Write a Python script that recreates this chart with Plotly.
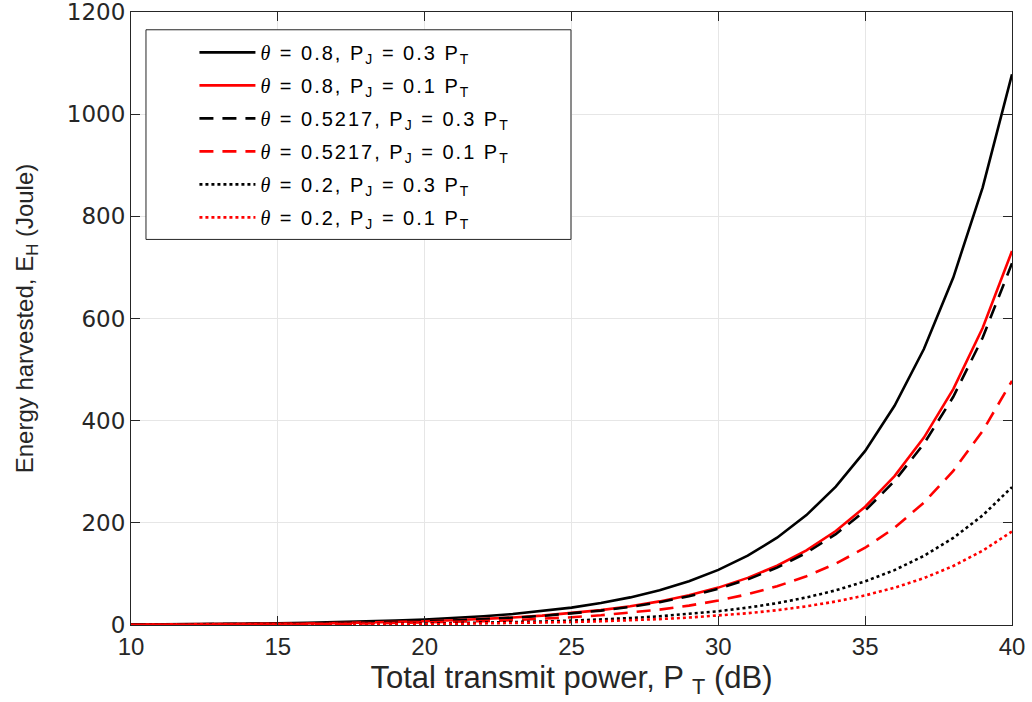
import plotly.graph_objects as go

x_db = list(range(10, 41))

E_th08_pj03 = [1.08, 1.36, 1.71, 2.15, 2.71, 3.41, 4.29, 5.40, 6.80, 8.56,
               10.78, 13.57, 17.09, 21.51, 27.08, 34.09, 42.92, 54.03, 68.02, 85.63,
               107.8, 135.7, 170.9, 215.1, 270.8, 340.9, 429.2, 540.3, 680.2, 856.3, 1078]
E_th08_pj01 = [0.73, 0.92, 1.16, 1.46, 1.84, 2.31, 2.91, 3.67, 4.62, 5.81,
               7.32, 9.22, 11.60, 14.61, 18.39, 23.15, 29.14, 36.69, 46.19, 58.14,
               73.2, 92.2, 116.0, 146.1, 183.9, 231.5, 291.4, 366.9, 461.9, 581.4, 732]
E_th05_pj03 = [0.71, 0.89, 1.12, 1.41, 1.78, 2.24, 2.82, 3.55, 4.47, 5.62,
               7.08, 8.91, 11.22, 14.13, 17.78, 22.39, 28.19, 35.48, 44.67, 56.24,
               70.8, 89.1, 112.2, 141.3, 177.8, 223.9, 281.9, 354.8, 446.7, 562.4, 708]
E_th05_pj01 = [0.48, 0.60, 0.76, 0.95, 1.20, 1.51, 1.90, 2.40, 3.02, 3.80,
               4.78, 6.02, 7.58, 9.54, 12.01, 15.12, 19.03, 23.96, 30.16, 37.97,
               47.8, 60.2, 75.8, 95.4, 120.1, 151.2, 190.3, 239.6, 301.6, 379.7, 478]
E_th02_pj03 = [0.27, 0.34, 0.43, 0.54, 0.68, 0.85, 1.07, 1.35, 1.70, 2.14,
               2.70, 3.40, 4.28, 5.39, 6.78, 8.54, 10.75, 13.53, 17.04, 21.45,
               27.0, 34.0, 42.8, 53.9, 67.8, 85.4, 107.5, 135.3, 170.4, 214.5, 270]
E_th02_pj01 = [0.18, 0.23, 0.29, 0.37, 0.46, 0.58, 0.73, 0.92, 1.15, 1.45,
               1.83, 2.30, 2.90, 3.65, 4.60, 5.79, 7.29, 9.17, 11.55, 14.54,
               18.3, 23.0, 29.0, 36.5, 46.0, 57.9, 72.9, 91.7, 115.5, 145.4, 183]

theta_labels = ["0.8", "0.8", "0.5217", "0.5217", "0.2", "0.2"]
pj_labels = ["0.3", "0.1", "0.3", "0.1", "0.3", "0.1"]
series = [E_th08_pj03, E_th08_pj01, E_th05_pj03, E_th05_pj01, E_th02_pj03, E_th02_pj01]
colors = ["#000000", "#ff0000", "#000000", "#ff0000", "#000000", "#ff0000"]
dashes = ["solid", "solid", "14px,9px", "14px,9px", "3px,3px", "3px,3px"]

AX = "#262626"
fig = go.Figure()
for i, y in enumerate(series):
    name = ("<span style=\"letter-spacing:2px\">"
            "<span style=\"font-family:'Liberation Serif'\"><i>θ</i></span> = "
            + theta_labels[i] + ", P<sub>J</sub> = " + pj_labels[i] + " P<sub>T</sub></span>")
    fig.add_trace(go.Scatter(x=x_db, y=y, mode="lines", name=name,
                             legendgroup=str(i),
                             line=dict(color=colors[i], width=2.6, dash=dashes[i])))

# legend frame (decoration)
fig.add_shape(type="rect", xref="paper", yref="paper",
              x0=0.017, x1=0.4994, y0=0.629, y1=0.971,
              fillcolor="white", line=dict(color=AX, width=1), layer="above")

fig.update_layout(
    width=1032, height=702,
    margin=dict(l=131, r=20, t=12, b=77, autoexpand=False),
    paper_bgcolor="white", plot_bgcolor="white",
    font=dict(family="Liberation Sans, Arial, sans-serif", color=AX, size=19),
    showlegend=True,
    legend=dict(x=0.072, y=0.966, xanchor="left", yanchor="top",
                bgcolor="rgba(0,0,0,0)", borderwidth=0,
                font=dict(family="Liberation Sans, Arial", size=20, color="black"),
                tracegroupgap=4, itemwidth=56),
)
fig.update_xaxes(range=[10, 40], tickvals=[10, 15, 20, 25, 30, 35, 40],
                 showgrid=True, gridcolor="#e6e6e6", gridwidth=1,
                 showline=True, linecolor=AX, linewidth=1, mirror="ticks",
                 ticks="inside", ticklen=9, tickcolor=AX, zeroline=False,
                 automargin=False, ticklabeloverflow="allow",
                 tickfont=dict(family="Liberation Sans, Arial", size=24),
                 title=dict(text="Total transmit power, P <sub>T</sub> (dB)", standoff=4,
                            font=dict(family="Liberation Sans, Arial", size=31)))
fig.update_yaxes(range=[0, 1200], tickvals=[0, 200, 400, 600, 800, 1000, 1200],
                 showgrid=True, gridcolor="#e6e6e6", gridwidth=1,
                 showline=True, linecolor=AX, linewidth=1, mirror="ticks",
                 ticks="inside", ticklen=9, tickcolor=AX, zeroline=False,
                 automargin=False, ticklabeloverflow="allow",
                 tickfont=dict(family="DejaVu Sans, Liberation Sans", size=23),
                 title=dict(text="Energy harvested, E<sub>H</sub> (Joule)", standoff=26,
                            font=dict(family="Liberation Sans, Arial", size=24)))

fig.write_html("out.html")
